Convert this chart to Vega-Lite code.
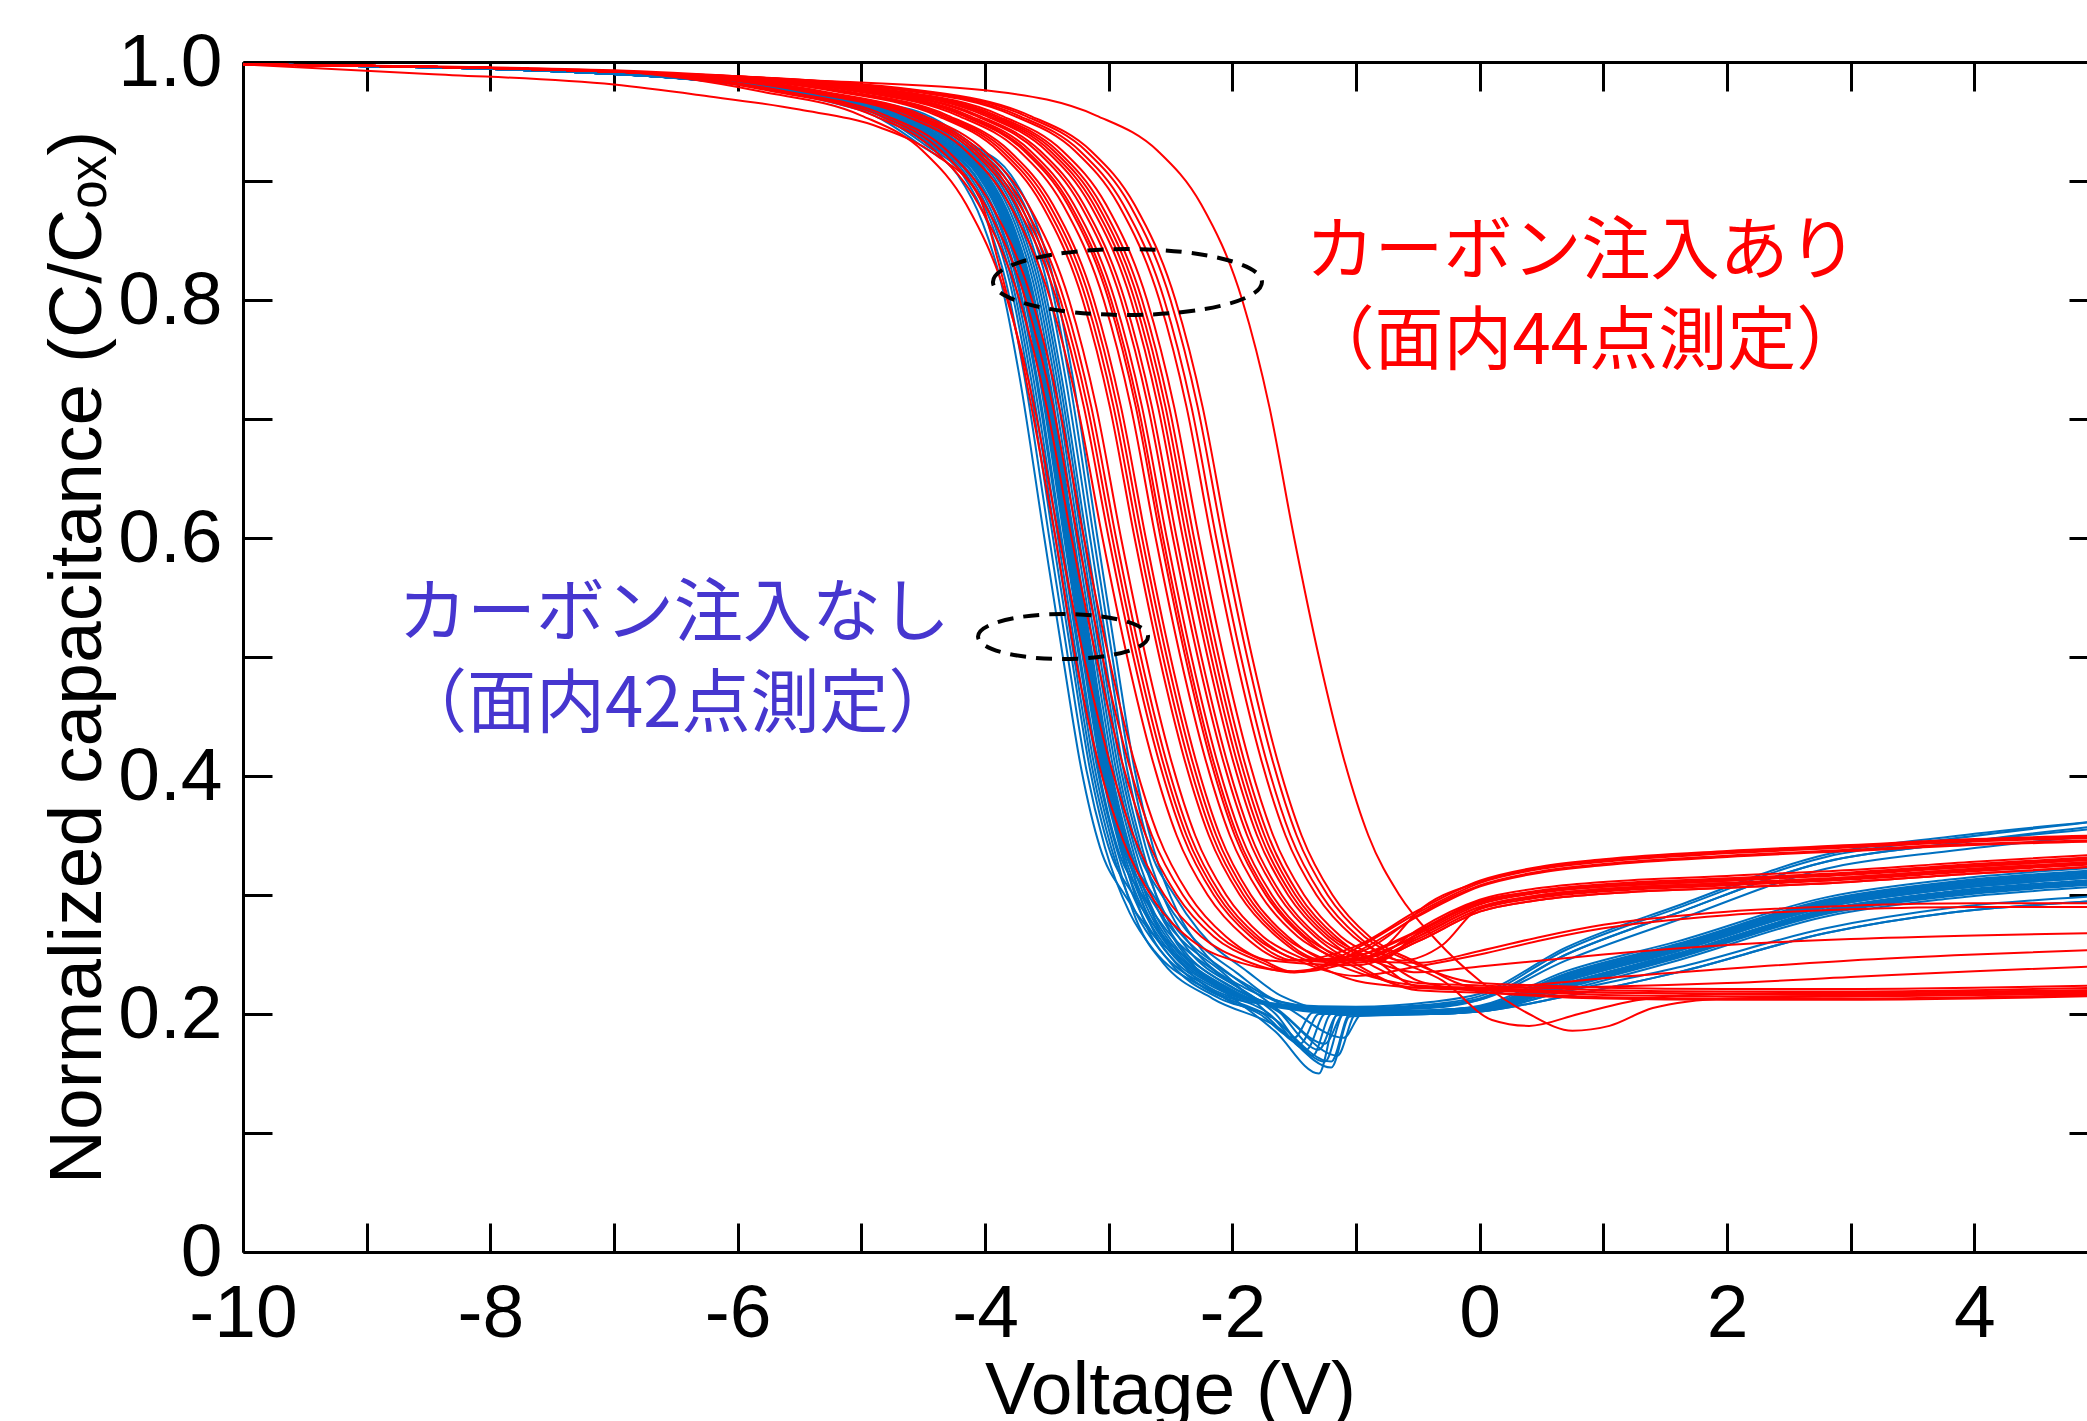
{
"$schema": "https://vega.github.io/schema/vega-lite/v6.json",
"width": 1855, "height": 1190,
"autosize": {"type": "none"},
"padding": {"left": 243, "top": 62, "right": 0, "bottom": 169},
"background": "white",
"config": {"view": {"stroke": null}},
"datasets": {
"blue": [
{"i":1,"v":-10,"c":0.998},{"i":1,"v":-7,"c":0.99},{"i":1,"v":-5.02,"c":0.96},{"i":1,"v":-4.52,"c":0.93},{"i":1,"v":-4.22,"c":0.905},{"i":1,"v":-4.02,"c":0.865},{"i":1,"v":-3.87,"c":0.815},{"i":1,"v":-3.72,"c":0.735},{"i":1,"v":-3.52,"c":0.6},{"i":1,"v":-3.37,"c":0.5},{"i":1,"v":-3.22,"c":0.405},{"i":1,"v":-3.07,"c":0.34},{"i":1,"v":-2.87,"c":0.3},{"i":1,"v":-2.67,"c":0.27},{"i":1,"v":-2.27,"c":0.235},{"i":1,"v":-1.65,"c":0.185},{"i":1,"v":-1.3,"c":0.15},{"i":1,"v":-1.15,"c":0.2},{"i":1,"v":-0.4,"c":0.202},{"i":1,"v":0,"c":0.205},{"i":1,"v":0.7,"c":0.228},{"i":1,"v":1.6,"c":0.253},{"i":1,"v":2.8,"c":0.29},{"i":1,"v":3.8,"c":0.305},{"i":1,"v":5,"c":0.315},
{"i":2,"v":-10,"c":0.998},{"i":2,"v":-7,"c":0.99},{"i":2,"v":-4.98,"c":0.96},{"i":2,"v":-4.48,"c":0.93},{"i":2,"v":-4.18,"c":0.905},{"i":2,"v":-3.98,"c":0.865},{"i":2,"v":-3.83,"c":0.815},{"i":2,"v":-3.68,"c":0.735},{"i":2,"v":-3.48,"c":0.6},{"i":2,"v":-3.33,"c":0.5},{"i":2,"v":-3.18,"c":0.405},{"i":2,"v":-3.03,"c":0.34},{"i":2,"v":-2.83,"c":0.285},{"i":2,"v":-2.63,"c":0.253},{"i":2,"v":-2.23,"c":0.222},{"i":2,"v":-1.65,"c":0.195},{"i":2,"v":-1.25,"c":0.16},{"i":2,"v":-1.1,"c":0.2},{"i":2,"v":-0.4,"c":0.203},{"i":2,"v":0,"c":0.206},{"i":2,"v":0.7,"c":0.232},{"i":2,"v":1.6,"c":0.257},{"i":2,"v":2.8,"c":0.294},{"i":2,"v":3.8,"c":0.309},{"i":2,"v":5,"c":0.319},
{"i":3,"v":-10,"c":0.998},{"i":3,"v":-7,"c":0.99},{"i":3,"v":-4.95,"c":0.96},{"i":3,"v":-4.45,"c":0.93},{"i":3,"v":-4.15,"c":0.905},{"i":3,"v":-3.95,"c":0.865},{"i":3,"v":-3.8,"c":0.815},{"i":3,"v":-3.65,"c":0.735},{"i":3,"v":-3.45,"c":0.6},{"i":3,"v":-3.3,"c":0.5},{"i":3,"v":-3.15,"c":0.405},{"i":3,"v":-3.0,"c":0.34},{"i":3,"v":-2.8,"c":0.3},{"i":3,"v":-2.6,"c":0.27},{"i":3,"v":-2.2,"c":0.235},{"i":3,"v":-1.6,"c":0.207},{"i":3,"v":-1.0,"c":0.203},{"i":3,"v":-0.4,"c":0.205},{"i":3,"v":0,"c":0.212},{"i":3,"v":0.7,"c":0.25},{"i":3,"v":1.6,"c":0.285},{"i":3,"v":2.8,"c":0.328},{"i":3,"v":3.8,"c":0.343},{"i":3,"v":5,"c":0.358},
{"i":4,"v":-10,"c":0.998},{"i":4,"v":-7,"c":0.99},{"i":4,"v":-4.93,"c":0.96},{"i":4,"v":-4.43,"c":0.93},{"i":4,"v":-4.13,"c":0.905},{"i":4,"v":-3.93,"c":0.865},{"i":4,"v":-3.78,"c":0.815},{"i":4,"v":-3.63,"c":0.735},{"i":4,"v":-3.43,"c":0.6},{"i":4,"v":-3.28,"c":0.5},{"i":4,"v":-3.13,"c":0.405},{"i":4,"v":-2.98,"c":0.34},{"i":4,"v":-2.78,"c":0.285},{"i":4,"v":-2.58,"c":0.253},{"i":4,"v":-2.18,"c":0.222},{"i":4,"v":-1.7,"c":0.2},{"i":4,"v":-1.4,"c":0.17},{"i":4,"v":-1.25,"c":0.2},{"i":4,"v":-0.4,"c":0.2},{"i":4,"v":0,"c":0.203},{"i":4,"v":0.7,"c":0.224},{"i":4,"v":1.6,"c":0.249},{"i":4,"v":2.8,"c":0.286},{"i":4,"v":3.8,"c":0.301},{"i":4,"v":5,"c":0.311},
{"i":5,"v":-10,"c":0.998},{"i":5,"v":-7,"c":0.99},{"i":5,"v":-4.91,"c":0.96},{"i":5,"v":-4.41,"c":0.93},{"i":5,"v":-4.11,"c":0.905},{"i":5,"v":-3.91,"c":0.865},{"i":5,"v":-3.76,"c":0.815},{"i":5,"v":-3.61,"c":0.735},{"i":5,"v":-3.41,"c":0.6},{"i":5,"v":-3.26,"c":0.5},{"i":5,"v":-3.11,"c":0.405},{"i":5,"v":-2.96,"c":0.34},{"i":5,"v":-2.76,"c":0.275},{"i":5,"v":-2.56,"c":0.243},{"i":5,"v":-2.16,"c":0.213},{"i":5,"v":-1.65,"c":0.19},{"i":5,"v":-1.2,"c":0.155},{"i":5,"v":-1.05,"c":0.198},{"i":5,"v":-0.4,"c":0.2},{"i":5,"v":0,"c":0.202},{"i":5,"v":0.7,"c":0.215},{"i":5,"v":1.6,"c":0.235},{"i":5,"v":2.8,"c":0.268},{"i":5,"v":3.8,"c":0.285},{"i":5,"v":5,"c":0.295},
{"i":6,"v":-10,"c":0.998},{"i":6,"v":-7,"c":0.99},{"i":6,"v":-4.89,"c":0.96},{"i":6,"v":-4.39,"c":0.93},{"i":6,"v":-4.09,"c":0.905},{"i":6,"v":-3.89,"c":0.865},{"i":6,"v":-3.74,"c":0.815},{"i":6,"v":-3.59,"c":0.735},{"i":6,"v":-3.39,"c":0.6},{"i":6,"v":-3.24,"c":0.5},{"i":6,"v":-3.09,"c":0.405},{"i":6,"v":-2.94,"c":0.34},{"i":6,"v":-2.74,"c":0.285},{"i":6,"v":-2.54,"c":0.253},{"i":6,"v":-2.14,"c":0.222},{"i":6,"v":-1.6,"c":0.207},{"i":6,"v":-1.0,"c":0.202},{"i":6,"v":-0.4,"c":0.203},{"i":6,"v":0,"c":0.207},{"i":6,"v":0.7,"c":0.236},{"i":6,"v":1.6,"c":0.261},{"i":6,"v":2.8,"c":0.298},{"i":6,"v":3.8,"c":0.313},{"i":6,"v":5,"c":0.323},
{"i":7,"v":-10,"c":0.998},{"i":7,"v":-7,"c":0.99},{"i":7,"v":-4.88,"c":0.96},{"i":7,"v":-4.38,"c":0.93},{"i":7,"v":-4.08,"c":0.905},{"i":7,"v":-3.88,"c":0.865},{"i":7,"v":-3.73,"c":0.815},{"i":7,"v":-3.58,"c":0.735},{"i":7,"v":-3.38,"c":0.6},{"i":7,"v":-3.23,"c":0.5},{"i":7,"v":-3.08,"c":0.405},{"i":7,"v":-2.93,"c":0.34},{"i":7,"v":-2.73,"c":0.3},{"i":7,"v":-2.53,"c":0.27},{"i":7,"v":-2.13,"c":0.235},{"i":7,"v":-1.65,"c":0.2},{"i":7,"v":-1.35,"c":0.165},{"i":7,"v":-1.2,"c":0.2},{"i":7,"v":-0.4,"c":0.202},{"i":7,"v":0,"c":0.205},{"i":7,"v":0.7,"c":0.228},{"i":7,"v":1.6,"c":0.253},{"i":7,"v":2.8,"c":0.29},{"i":7,"v":3.8,"c":0.305},{"i":7,"v":5,"c":0.315},
{"i":8,"v":-10,"c":0.998},{"i":8,"v":-7,"c":0.99},{"i":8,"v":-4.86,"c":0.96},{"i":8,"v":-4.36,"c":0.93},{"i":8,"v":-4.06,"c":0.905},{"i":8,"v":-3.86,"c":0.865},{"i":8,"v":-3.71,"c":0.815},{"i":8,"v":-3.56,"c":0.735},{"i":8,"v":-3.36,"c":0.6},{"i":8,"v":-3.21,"c":0.5},{"i":8,"v":-3.06,"c":0.405},{"i":8,"v":-2.91,"c":0.34},{"i":8,"v":-2.71,"c":0.285},{"i":8,"v":-2.51,"c":0.253},{"i":8,"v":-2.11,"c":0.222},{"i":8,"v":-1.6,"c":0.207},{"i":8,"v":-1.0,"c":0.204},{"i":8,"v":-0.4,"c":0.206},{"i":8,"v":0,"c":0.212},{"i":8,"v":0.7,"c":0.245},{"i":8,"v":1.6,"c":0.279},{"i":8,"v":2.8,"c":0.322},{"i":8,"v":3.8,"c":0.337},{"i":8,"v":5,"c":0.35},
{"i":9,"v":-10,"c":0.998},{"i":9,"v":-7,"c":0.99},{"i":9,"v":-4.85,"c":0.96},{"i":9,"v":-4.35,"c":0.93},{"i":9,"v":-4.05,"c":0.905},{"i":9,"v":-3.85,"c":0.865},{"i":9,"v":-3.7,"c":0.815},{"i":9,"v":-3.55,"c":0.735},{"i":9,"v":-3.35,"c":0.6},{"i":9,"v":-3.2,"c":0.5},{"i":9,"v":-3.05,"c":0.405},{"i":9,"v":-2.9,"c":0.34},{"i":9,"v":-2.7,"c":0.275},{"i":9,"v":-2.5,"c":0.243},{"i":9,"v":-2.1,"c":0.213},{"i":9,"v":-1.75,"c":0.2},{"i":9,"v":-1.45,"c":0.175},{"i":9,"v":-1.3,"c":0.2},{"i":9,"v":-0.4,"c":0.2},{"i":9,"v":0,"c":0.202},{"i":9,"v":0.7,"c":0.22},{"i":9,"v":1.6,"c":0.245},{"i":9,"v":2.8,"c":0.282},{"i":9,"v":3.8,"c":0.297},{"i":9,"v":5,"c":0.307},
{"i":10,"v":-10,"c":0.998},{"i":10,"v":-7,"c":0.99},{"i":10,"v":-4.84,"c":0.96},{"i":10,"v":-4.34,"c":0.93},{"i":10,"v":-4.04,"c":0.905},{"i":10,"v":-3.84,"c":0.865},{"i":10,"v":-3.69,"c":0.815},{"i":10,"v":-3.54,"c":0.735},{"i":10,"v":-3.34,"c":0.6},{"i":10,"v":-3.19,"c":0.5},{"i":10,"v":-3.04,"c":0.405},{"i":10,"v":-2.89,"c":0.34},{"i":10,"v":-2.69,"c":0.285},{"i":10,"v":-2.49,"c":0.253},{"i":10,"v":-2.09,"c":0.222},{"i":10,"v":-1.6,"c":0.207},{"i":10,"v":-1.0,"c":0.202},{"i":10,"v":-0.4,"c":0.202},{"i":10,"v":0,"c":0.205},{"i":10,"v":0.7,"c":0.231},{"i":10,"v":1.6,"c":0.256},{"i":10,"v":2.8,"c":0.293},{"i":10,"v":3.8,"c":0.308},{"i":10,"v":5,"c":0.318},
{"i":11,"v":-10,"c":0.998},{"i":11,"v":-7,"c":0.99},{"i":11,"v":-4.83,"c":0.96},{"i":11,"v":-4.33,"c":0.93},{"i":11,"v":-4.03,"c":0.905},{"i":11,"v":-3.83,"c":0.865},{"i":11,"v":-3.68,"c":0.815},{"i":11,"v":-3.53,"c":0.735},{"i":11,"v":-3.33,"c":0.6},{"i":11,"v":-3.18,"c":0.5},{"i":11,"v":-3.03,"c":0.405},{"i":11,"v":-2.88,"c":0.34},{"i":11,"v":-2.68,"c":0.3},{"i":11,"v":-2.48,"c":0.27},{"i":11,"v":-2.08,"c":0.235},{"i":11,"v":-1.65,"c":0.195},{"i":11,"v":-1.2,"c":0.16},{"i":11,"v":-1.05,"c":0.2},{"i":11,"v":-0.4,"c":0.201},{"i":11,"v":0,"c":0.204},{"i":11,"v":0.7,"c":0.225},{"i":11,"v":1.6,"c":0.25},{"i":11,"v":2.8,"c":0.287},{"i":11,"v":3.8,"c":0.302},{"i":11,"v":5,"c":0.312},
{"i":12,"v":-10,"c":0.998},{"i":12,"v":-7,"c":0.99},{"i":12,"v":-4.82,"c":0.96},{"i":12,"v":-4.32,"c":0.93},{"i":12,"v":-4.02,"c":0.905},{"i":12,"v":-3.82,"c":0.865},{"i":12,"v":-3.67,"c":0.815},{"i":12,"v":-3.52,"c":0.735},{"i":12,"v":-3.32,"c":0.6},{"i":12,"v":-3.17,"c":0.5},{"i":12,"v":-3.02,"c":0.405},{"i":12,"v":-2.87,"c":0.34},{"i":12,"v":-2.67,"c":0.285},{"i":12,"v":-2.47,"c":0.253},{"i":12,"v":-2.07,"c":0.222},{"i":12,"v":-1.6,"c":0.208},{"i":12,"v":-1.0,"c":0.205},{"i":12,"v":-0.4,"c":0.208},{"i":12,"v":0,"c":0.215},{"i":12,"v":0.7,"c":0.254},{"i":12,"v":1.6,"c":0.289},{"i":12,"v":2.8,"c":0.332},{"i":12,"v":3.8,"c":0.347},{"i":12,"v":5,"c":0.362},
{"i":13,"v":-10,"c":0.998},{"i":13,"v":-7,"c":0.99},{"i":13,"v":-4.81,"c":0.96},{"i":13,"v":-4.31,"c":0.93},{"i":13,"v":-4.01,"c":0.905},{"i":13,"v":-3.81,"c":0.865},{"i":13,"v":-3.66,"c":0.815},{"i":13,"v":-3.51,"c":0.735},{"i":13,"v":-3.31,"c":0.6},{"i":13,"v":-3.16,"c":0.5},{"i":13,"v":-3.01,"c":0.405},{"i":13,"v":-2.86,"c":0.34},{"i":13,"v":-2.66,"c":0.275},{"i":13,"v":-2.46,"c":0.243},{"i":13,"v":-2.06,"c":0.213},{"i":13,"v":-1.78,"c":0.2},{"i":13,"v":-1.5,"c":0.18},{"i":13,"v":-1.35,"c":0.201},{"i":13,"v":-0.4,"c":0.203},{"i":13,"v":0,"c":0.206},{"i":13,"v":0.7,"c":0.234},{"i":13,"v":1.6,"c":0.259},{"i":13,"v":2.8,"c":0.296},{"i":13,"v":3.8,"c":0.311},{"i":13,"v":5,"c":0.321},
{"i":14,"v":-10,"c":0.998},{"i":14,"v":-7,"c":0.99},{"i":14,"v":-4.8,"c":0.96},{"i":14,"v":-4.3,"c":0.93},{"i":14,"v":-4.0,"c":0.905},{"i":14,"v":-3.8,"c":0.865},{"i":14,"v":-3.65,"c":0.815},{"i":14,"v":-3.5,"c":0.735},{"i":14,"v":-3.3,"c":0.6},{"i":14,"v":-3.15,"c":0.5},{"i":14,"v":-3.0,"c":0.405},{"i":14,"v":-2.85,"c":0.34},{"i":14,"v":-2.65,"c":0.285},{"i":14,"v":-2.45,"c":0.253},{"i":14,"v":-2.05,"c":0.222},{"i":14,"v":-1.6,"c":0.206},{"i":14,"v":-1.0,"c":0.201},{"i":14,"v":-0.4,"c":0.202},{"i":14,"v":0,"c":0.205},{"i":14,"v":0.7,"c":0.228},{"i":14,"v":1.6,"c":0.253},{"i":14,"v":2.8,"c":0.29},{"i":14,"v":3.8,"c":0.305},{"i":14,"v":5,"c":0.315},
{"i":15,"v":-10,"c":0.998},{"i":15,"v":-7,"c":0.99},{"i":15,"v":-4.79,"c":0.96},{"i":15,"v":-4.29,"c":0.93},{"i":15,"v":-3.99,"c":0.905},{"i":15,"v":-3.79,"c":0.865},{"i":15,"v":-3.64,"c":0.815},{"i":15,"v":-3.49,"c":0.735},{"i":15,"v":-3.29,"c":0.6},{"i":15,"v":-3.14,"c":0.5},{"i":15,"v":-2.99,"c":0.405},{"i":15,"v":-2.84,"c":0.34},{"i":15,"v":-2.64,"c":0.3},{"i":15,"v":-2.44,"c":0.27},{"i":15,"v":-2.04,"c":0.235},{"i":15,"v":-1.65,"c":0.205},{"i":15,"v":-1.3,"c":0.17},{"i":15,"v":-1.15,"c":0.199},{"i":15,"v":-0.4,"c":0.2},{"i":15,"v":0,"c":0.203},{"i":15,"v":0.7,"c":0.219},{"i":15,"v":1.6,"c":0.239},{"i":15,"v":2.8,"c":0.272},{"i":15,"v":3.8,"c":0.289},{"i":15,"v":5,"c":0.299},
{"i":16,"v":-10,"c":0.998},{"i":16,"v":-7,"c":0.99},{"i":16,"v":-4.78,"c":0.96},{"i":16,"v":-4.28,"c":0.93},{"i":16,"v":-3.98,"c":0.905},{"i":16,"v":-3.78,"c":0.865},{"i":16,"v":-3.63,"c":0.815},{"i":16,"v":-3.48,"c":0.735},{"i":16,"v":-3.28,"c":0.6},{"i":16,"v":-3.13,"c":0.5},{"i":16,"v":-2.98,"c":0.405},{"i":16,"v":-2.83,"c":0.34},{"i":16,"v":-2.63,"c":0.285},{"i":16,"v":-2.43,"c":0.253},{"i":16,"v":-2.03,"c":0.222},{"i":16,"v":-1.6,"c":0.205},{"i":16,"v":-1.0,"c":0.2},{"i":16,"v":-0.4,"c":0.201},{"i":16,"v":0,"c":0.204},{"i":16,"v":0.7,"c":0.223},{"i":16,"v":1.6,"c":0.248},{"i":16,"v":2.8,"c":0.285},{"i":16,"v":3.8,"c":0.3},{"i":16,"v":5,"c":0.31},
{"i":17,"v":-10,"c":0.998},{"i":17,"v":-7,"c":0.99},{"i":17,"v":-4.76,"c":0.96},{"i":17,"v":-4.26,"c":0.93},{"i":17,"v":-3.96,"c":0.905},{"i":17,"v":-3.76,"c":0.865},{"i":17,"v":-3.61,"c":0.815},{"i":17,"v":-3.46,"c":0.735},{"i":17,"v":-3.26,"c":0.6},{"i":17,"v":-3.11,"c":0.5},{"i":17,"v":-2.96,"c":0.405},{"i":17,"v":-2.81,"c":0.34},{"i":17,"v":-2.61,"c":0.275},{"i":17,"v":-2.41,"c":0.243},{"i":17,"v":-2.01,"c":0.213},{"i":17,"v":-1.6,"c":0.207},{"i":17,"v":-1.0,"c":0.204},{"i":17,"v":-0.4,"c":0.207},{"i":17,"v":0,"c":0.213},{"i":17,"v":0.7,"c":0.25},{"i":17,"v":1.6,"c":0.285},{"i":17,"v":2.8,"c":0.328},{"i":17,"v":3.8,"c":0.343},{"i":17,"v":5,"c":0.356},
{"i":18,"v":-10,"c":0.998},{"i":18,"v":-7,"c":0.99},{"i":18,"v":-4.74,"c":0.96},{"i":18,"v":-4.24,"c":0.93},{"i":18,"v":-3.94,"c":0.905},{"i":18,"v":-3.74,"c":0.865},{"i":18,"v":-3.59,"c":0.815},{"i":18,"v":-3.44,"c":0.735},{"i":18,"v":-3.24,"c":0.6},{"i":18,"v":-3.09,"c":0.5},{"i":18,"v":-2.94,"c":0.405},{"i":18,"v":-2.79,"c":0.34},{"i":18,"v":-2.59,"c":0.285},{"i":18,"v":-2.39,"c":0.253},{"i":18,"v":-1.99,"c":0.222},{"i":18,"v":-1.65,"c":0.205},{"i":18,"v":-1.25,"c":0.175},{"i":18,"v":-1.1,"c":0.2},{"i":18,"v":-0.4,"c":0.202},{"i":18,"v":0,"c":0.205},{"i":18,"v":0.7,"c":0.23},{"i":18,"v":1.6,"c":0.255},{"i":18,"v":2.8,"c":0.292},{"i":18,"v":3.8,"c":0.307},{"i":18,"v":5,"c":0.317},
{"i":19,"v":-10,"c":0.998},{"i":19,"v":-7,"c":0.99},{"i":19,"v":-4.72,"c":0.96},{"i":19,"v":-4.22,"c":0.93},{"i":19,"v":-3.92,"c":0.905},{"i":19,"v":-3.72,"c":0.865},{"i":19,"v":-3.57,"c":0.815},{"i":19,"v":-3.42,"c":0.735},{"i":19,"v":-3.22,"c":0.6},{"i":19,"v":-3.07,"c":0.5},{"i":19,"v":-2.92,"c":0.405},{"i":19,"v":-2.77,"c":0.34},{"i":19,"v":-2.57,"c":0.3},{"i":19,"v":-2.37,"c":0.27},{"i":19,"v":-1.97,"c":0.235},{"i":19,"v":-1.6,"c":0.21},{"i":19,"v":-1.0,"c":0.203},{"i":19,"v":-0.4,"c":0.203},{"i":19,"v":0,"c":0.206},{"i":19,"v":0.7,"c":0.233},{"i":19,"v":1.6,"c":0.258},{"i":19,"v":2.8,"c":0.295},{"i":19,"v":3.8,"c":0.31},{"i":19,"v":5,"c":0.32},
{"i":20,"v":-10,"c":0.998},{"i":20,"v":-7,"c":0.99},{"i":20,"v":-4.7,"c":0.96},{"i":20,"v":-4.2,"c":0.93},{"i":20,"v":-3.9,"c":0.905},{"i":20,"v":-3.7,"c":0.865},{"i":20,"v":-3.55,"c":0.815},{"i":20,"v":-3.4,"c":0.735},{"i":20,"v":-3.2,"c":0.6},{"i":20,"v":-3.05,"c":0.5},{"i":20,"v":-2.9,"c":0.405},{"i":20,"v":-2.75,"c":0.34},{"i":20,"v":-2.55,"c":0.285},{"i":20,"v":-2.35,"c":0.253},{"i":20,"v":-1.95,"c":0.222},{"i":20,"v":-1.6,"c":0.2},{"i":20,"v":-1.15,"c":0.165},{"i":20,"v":-1.0,"c":0.2},{"i":20,"v":-0.4,"c":0.201},{"i":20,"v":0,"c":0.204},{"i":20,"v":0.7,"c":0.226},{"i":20,"v":1.6,"c":0.251},{"i":20,"v":2.8,"c":0.288},{"i":20,"v":3.8,"c":0.303},{"i":20,"v":5,"c":0.313},
{"i":21,"v":-10,"c":0.998},{"i":21,"v":-7,"c":0.99},{"i":21,"v":-4.68,"c":0.96},{"i":21,"v":-4.18,"c":0.93},{"i":21,"v":-3.88,"c":0.905},{"i":21,"v":-3.68,"c":0.865},{"i":21,"v":-3.53,"c":0.815},{"i":21,"v":-3.38,"c":0.735},{"i":21,"v":-3.18,"c":0.6},{"i":21,"v":-3.03,"c":0.5},{"i":21,"v":-2.88,"c":0.405},{"i":21,"v":-2.73,"c":0.34},{"i":21,"v":-2.53,"c":0.275},{"i":21,"v":-2.33,"c":0.243},{"i":21,"v":-1.93,"c":0.213},{"i":21,"v":-1.6,"c":0.208},{"i":21,"v":-1.0,"c":0.206},{"i":21,"v":-0.4,"c":0.21},{"i":21,"v":0,"c":0.217},{"i":21,"v":0.7,"c":0.256},{"i":21,"v":1.6,"c":0.291},{"i":21,"v":2.8,"c":0.334},{"i":21,"v":3.8,"c":0.349},{"i":21,"v":5,"c":0.362},
{"i":22,"v":-10,"c":0.998},{"i":22,"v":-7,"c":0.99},{"i":22,"v":-4.65,"c":0.96},{"i":22,"v":-4.15,"c":0.93},{"i":22,"v":-3.85,"c":0.905},{"i":22,"v":-3.65,"c":0.865},{"i":22,"v":-3.5,"c":0.815},{"i":22,"v":-3.35,"c":0.735},{"i":22,"v":-3.15,"c":0.6},{"i":22,"v":-3.0,"c":0.5},{"i":22,"v":-2.85,"c":0.405},{"i":22,"v":-2.7,"c":0.34},{"i":22,"v":-2.5,"c":0.285},{"i":22,"v":-2.3,"c":0.253},{"i":22,"v":-1.9,"c":0.222},{"i":22,"v":-1.6,"c":0.21},{"i":22,"v":-1.0,"c":0.202},{"i":22,"v":-0.4,"c":0.202},{"i":22,"v":0,"c":0.205},{"i":22,"v":0.7,"c":0.229},{"i":22,"v":1.6,"c":0.254},{"i":22,"v":2.8,"c":0.291},{"i":22,"v":3.8,"c":0.306},{"i":22,"v":5,"c":0.316},
{"i":23,"v":-10,"c":0.998},{"i":23,"v":-7,"c":0.99},{"i":23,"v":-4.62,"c":0.96},{"i":23,"v":-4.12,"c":0.93},{"i":23,"v":-3.82,"c":0.905},{"i":23,"v":-3.62,"c":0.865},{"i":23,"v":-3.47,"c":0.815},{"i":23,"v":-3.32,"c":0.735},{"i":23,"v":-3.12,"c":0.6},{"i":23,"v":-2.97,"c":0.5},{"i":23,"v":-2.82,"c":0.405},{"i":23,"v":-2.67,"c":0.34},{"i":23,"v":-2.47,"c":0.3},{"i":23,"v":-2.27,"c":0.27},{"i":23,"v":-1.87,"c":0.235},{"i":23,"v":-1.6,"c":0.215},{"i":23,"v":-1.0,"c":0.2},{"i":23,"v":-0.4,"c":0.2},{"i":23,"v":0,"c":0.202},{"i":23,"v":0.7,"c":0.215},{"i":23,"v":1.6,"c":0.235},{"i":23,"v":2.8,"c":0.268},{"i":23,"v":3.8,"c":0.285},{"i":23,"v":5,"c":0.295},
{"i":24,"v":-10,"c":0.998},{"i":24,"v":-7,"c":0.99},{"i":24,"v":-4.59,"c":0.96},{"i":24,"v":-4.09,"c":0.93},{"i":24,"v":-3.79,"c":0.905},{"i":24,"v":-3.59,"c":0.865},{"i":24,"v":-3.44,"c":0.815},{"i":24,"v":-3.29,"c":0.735},{"i":24,"v":-3.09,"c":0.6},{"i":24,"v":-2.94,"c":0.5},{"i":24,"v":-2.79,"c":0.405},{"i":24,"v":-2.64,"c":0.34},{"i":24,"v":-2.44,"c":0.285},{"i":24,"v":-2.24,"c":0.253},{"i":24,"v":-1.84,"c":0.222},{"i":24,"v":-1.55,"c":0.205},{"i":24,"v":-1.1,"c":0.18},{"i":24,"v":-0.95,"c":0.2},{"i":24,"v":-0.4,"c":0.2},{"i":24,"v":0,"c":0.203},{"i":24,"v":0.7,"c":0.222},{"i":24,"v":1.6,"c":0.247},{"i":24,"v":2.8,"c":0.284},{"i":24,"v":3.8,"c":0.299},{"i":24,"v":5,"c":0.309}
],
"red": [
{"i":1,"v":-10,"c":0.998},{"i":1,"v":-8.5,"c":0.99},{"i":1,"v":-7,"c":0.981},{"i":1,"v":-6.3,"c":0.972},{"i":1,"v":-5.5,"c":0.96},{"i":1,"v":-4.85,"c":0.945},{"i":1,"v":-4.4,"c":0.922},{"i":1,"v":-4.04,"c":0.885},{"i":1,"v":-3.9,"c":0.835},{"i":1,"v":-3.72,"c":0.76},{"i":1,"v":-3.57,"c":0.68},{"i":1,"v":-3.43,"c":0.6},{"i":1,"v":-3.27,"c":0.5},{"i":1,"v":-3.08,"c":0.41},{"i":1,"v":-2.88,"c":0.345},{"i":1,"v":-2.63,"c":0.295},{"i":1,"v":-2.33,"c":0.262},{"i":1,"v":-1.93,"c":0.243},{"i":1,"v":-1.5,"c":0.236},{"i":1,"v":-1.0,"c":0.248},{"i":1,"v":-0.5,"c":0.27},{"i":1,"v":0,"c":0.295},{"i":1,"v":0.5,"c":0.303},{"i":1,"v":1,"c":0.307},{"i":1,"v":2,"c":0.312},{"i":1,"v":3,"c":0.318},{"i":1,"v":4,"c":0.324},{"i":1,"v":5,"c":0.33},
{"i":2,"v":-10,"c":0.998},{"i":2,"v":-7,"c":0.992},{"i":2,"v":-5.8,"c":0.975},{"i":2,"v":-5.0,"c":0.955},{"i":2,"v":-4.5,"c":0.925},{"i":2,"v":-4.15,"c":0.88},{"i":2,"v":-3.82,"c":0.8},{"i":2,"v":-3.6,"c":0.71},{"i":2,"v":-3.4,"c":0.6},{"i":2,"v":-3.2,"c":0.5},{"i":2,"v":-3.0,"c":0.415},{"i":2,"v":-2.8,"c":0.35},{"i":2,"v":-2.55,"c":0.3},{"i":2,"v":-2.25,"c":0.265},{"i":2,"v":-1.9,"c":0.245},{"i":2,"v":-1.5,"c":0.235},{"i":2,"v":-1.0,"c":0.245},{"i":2,"v":-0.5,"c":0.265},{"i":2,"v":0,"c":0.29},{"i":2,"v":0.5,"c":0.3},{"i":2,"v":1,"c":0.305},{"i":2,"v":2,"c":0.31},{"i":2,"v":3,"c":0.315},{"i":2,"v":4,"c":0.322},{"i":2,"v":5,"c":0.328},
{"i":3,"v":-10,"c":0.998},{"i":3,"v":-7,"c":0.992},{"i":3,"v":-5.7,"c":0.975},{"i":3,"v":-4.9,"c":0.955},{"i":3,"v":-4.4,"c":0.925},{"i":3,"v":-4.05,"c":0.88},{"i":3,"v":-3.72,"c":0.8},{"i":3,"v":-3.5,"c":0.71},{"i":3,"v":-3.3,"c":0.6},{"i":3,"v":-3.1,"c":0.5},{"i":3,"v":-2.9,"c":0.415},{"i":3,"v":-2.7,"c":0.35},{"i":3,"v":-2.45,"c":0.3},{"i":3,"v":-2.15,"c":0.265},{"i":3,"v":-1.8,"c":0.245},{"i":3,"v":-1.5,"c":0.235},{"i":3,"v":-1.0,"c":0.255},{"i":3,"v":-0.5,"c":0.285},{"i":3,"v":0,"c":0.31},{"i":3,"v":0.5,"c":0.322},{"i":3,"v":1,"c":0.328},{"i":3,"v":2,"c":0.335},{"i":3,"v":3,"c":0.34},{"i":3,"v":4,"c":0.345},{"i":3,"v":5,"c":0.348},
{"i":4,"v":-10,"c":0.998},{"i":4,"v":-7,"c":0.992},{"i":4,"v":-5.6,"c":0.975},{"i":4,"v":-4.8,"c":0.955},{"i":4,"v":-4.3,"c":0.925},{"i":4,"v":-3.95,"c":0.88},{"i":4,"v":-3.62,"c":0.8},{"i":4,"v":-3.4,"c":0.71},{"i":4,"v":-3.2,"c":0.6},{"i":4,"v":-3.0,"c":0.5},{"i":4,"v":-2.8,"c":0.415},{"i":4,"v":-2.6,"c":0.35},{"i":4,"v":-2.35,"c":0.3},{"i":4,"v":-2.05,"c":0.265},{"i":4,"v":-1.7,"c":0.245},{"i":4,"v":-1.0,"c":0.241},{"i":4,"v":-0.5,"c":0.261},{"i":4,"v":0,"c":0.286},{"i":4,"v":0.5,"c":0.296},{"i":4,"v":1,"c":0.301},{"i":4,"v":2,"c":0.306},{"i":4,"v":3,"c":0.311},{"i":4,"v":4,"c":0.318},{"i":4,"v":5,"c":0.324},
{"i":5,"v":-10,"c":0.998},{"i":5,"v":-7,"c":0.992},{"i":5,"v":-5.65,"c":0.975},{"i":5,"v":-4.85,"c":0.955},{"i":5,"v":-4.35,"c":0.925},{"i":5,"v":-4.0,"c":0.88},{"i":5,"v":-3.67,"c":0.8},{"i":5,"v":-3.45,"c":0.71},{"i":5,"v":-3.25,"c":0.6},{"i":5,"v":-3.05,"c":0.5},{"i":5,"v":-2.85,"c":0.415},{"i":5,"v":-2.65,"c":0.35},{"i":5,"v":-2.4,"c":0.3},{"i":5,"v":-2.1,"c":0.265},{"i":5,"v":-1.75,"c":0.245},{"i":5,"v":-1.5,"c":0.235},{"i":5,"v":-1.0,"c":0.252},{"i":5,"v":-0.5,"c":0.282},{"i":5,"v":0,"c":0.307},{"i":5,"v":0.5,"c":0.319},{"i":5,"v":1,"c":0.325},{"i":5,"v":2,"c":0.332},{"i":5,"v":3,"c":0.337},{"i":5,"v":4,"c":0.342},{"i":5,"v":5,"c":0.345},
{"i":6,"v":-10,"c":0.998},{"i":6,"v":-7,"c":0.992},{"i":6,"v":-5.45,"c":0.975},{"i":6,"v":-4.65,"c":0.955},{"i":6,"v":-4.15,"c":0.925},{"i":6,"v":-3.8,"c":0.88},{"i":6,"v":-3.47,"c":0.8},{"i":6,"v":-3.25,"c":0.71},{"i":6,"v":-3.05,"c":0.6},{"i":6,"v":-2.85,"c":0.5},{"i":6,"v":-2.65,"c":0.415},{"i":6,"v":-2.45,"c":0.35},{"i":6,"v":-2.2,"c":0.3},{"i":6,"v":-1.9,"c":0.265},{"i":6,"v":-1.55,"c":0.245},{"i":6,"v":-1.0,"c":0.249},{"i":6,"v":-0.5,"c":0.269},{"i":6,"v":0,"c":0.294},{"i":6,"v":0.5,"c":0.304},{"i":6,"v":1,"c":0.309},{"i":6,"v":2,"c":0.314},{"i":6,"v":3,"c":0.319},{"i":6,"v":4,"c":0.326},{"i":6,"v":5,"c":0.332},
{"i":7,"v":-10,"c":0.998},{"i":7,"v":-7,"c":0.992},{"i":7,"v":-5.4,"c":0.975},{"i":7,"v":-4.6,"c":0.955},{"i":7,"v":-4.1,"c":0.925},{"i":7,"v":-3.75,"c":0.88},{"i":7,"v":-3.42,"c":0.8},{"i":7,"v":-3.2,"c":0.71},{"i":7,"v":-3.0,"c":0.6},{"i":7,"v":-2.8,"c":0.5},{"i":7,"v":-2.6,"c":0.415},{"i":7,"v":-2.4,"c":0.35},{"i":7,"v":-2.15,"c":0.3},{"i":7,"v":-1.85,"c":0.265},{"i":7,"v":-1.5,"c":0.245},{"i":7,"v":-1.0,"c":0.257},{"i":7,"v":-0.5,"c":0.287},{"i":7,"v":0,"c":0.312},{"i":7,"v":0.5,"c":0.324},{"i":7,"v":1,"c":0.33},{"i":7,"v":2,"c":0.337},{"i":7,"v":3,"c":0.342},{"i":7,"v":4,"c":0.347},{"i":7,"v":5,"c":0.35},
{"i":8,"v":-10,"c":0.998},{"i":8,"v":-7,"c":0.992},{"i":8,"v":-5.37,"c":0.975},{"i":8,"v":-4.57,"c":0.955},{"i":8,"v":-4.07,"c":0.925},{"i":8,"v":-3.72,"c":0.88},{"i":8,"v":-3.39,"c":0.8},{"i":8,"v":-3.17,"c":0.71},{"i":8,"v":-2.97,"c":0.6},{"i":8,"v":-2.77,"c":0.5},{"i":8,"v":-2.57,"c":0.415},{"i":8,"v":-2.37,"c":0.35},{"i":8,"v":-2.12,"c":0.3},{"i":8,"v":-1.82,"c":0.265},{"i":8,"v":-1.47,"c":0.245},{"i":8,"v":-1.0,"c":0.232},{"i":8,"v":-0.5,"c":0.24},{"i":8,"v":0,"c":0.25},{"i":8,"v":0.5,"c":0.262},{"i":8,"v":1,"c":0.272},{"i":8,"v":2,"c":0.283},{"i":8,"v":3,"c":0.288},{"i":8,"v":4,"c":0.29},{"i":8,"v":5,"c":0.29},
{"i":9,"v":-10,"c":0.998},{"i":9,"v":-7,"c":0.992},{"i":9,"v":-5.34,"c":0.975},{"i":9,"v":-4.54,"c":0.955},{"i":9,"v":-4.04,"c":0.925},{"i":9,"v":-3.69,"c":0.88},{"i":9,"v":-3.36,"c":0.8},{"i":9,"v":-3.14,"c":0.71},{"i":9,"v":-2.94,"c":0.6},{"i":9,"v":-2.74,"c":0.5},{"i":9,"v":-2.54,"c":0.415},{"i":9,"v":-2.34,"c":0.35},{"i":9,"v":-2.09,"c":0.3},{"i":9,"v":-1.79,"c":0.265},{"i":9,"v":-1.44,"c":0.245},{"i":9,"v":-1.0,"c":0.243},{"i":9,"v":-0.5,"c":0.263},{"i":9,"v":0,"c":0.288},{"i":9,"v":0.5,"c":0.298},{"i":9,"v":1,"c":0.303},{"i":9,"v":2,"c":0.308},{"i":9,"v":3,"c":0.313},{"i":9,"v":4,"c":0.32},{"i":9,"v":5,"c":0.326},
{"i":10,"v":-10,"c":0.998},{"i":10,"v":-7,"c":0.992},{"i":10,"v":-5.3,"c":0.975},{"i":10,"v":-4.5,"c":0.955},{"i":10,"v":-4.0,"c":0.925},{"i":10,"v":-3.65,"c":0.88},{"i":10,"v":-3.32,"c":0.8},{"i":10,"v":-3.1,"c":0.71},{"i":10,"v":-2.9,"c":0.6},{"i":10,"v":-2.7,"c":0.5},{"i":10,"v":-2.5,"c":0.415},{"i":10,"v":-2.3,"c":0.35},{"i":10,"v":-2.05,"c":0.3},{"i":10,"v":-1.75,"c":0.265},{"i":10,"v":-1.4,"c":0.245},{"i":10,"v":-1.0,"c":0.228},{"i":10,"v":-0.5,"c":0.222},{"i":10,"v":0,"c":0.22},{"i":10,"v":0.5,"c":0.218},{"i":10,"v":1,"c":0.216},{"i":10,"v":2,"c":0.215},{"i":10,"v":3,"c":0.215},{"i":10,"v":4,"c":0.216},{"i":10,"v":5,"c":0.218},
{"i":11,"v":-10,"c":0.998},{"i":11,"v":-7,"c":0.992},{"i":11,"v":-5.19,"c":0.975},{"i":11,"v":-4.39,"c":0.955},{"i":11,"v":-3.89,"c":0.925},{"i":11,"v":-3.54,"c":0.88},{"i":11,"v":-3.21,"c":0.8},{"i":11,"v":-2.99,"c":0.71},{"i":11,"v":-2.79,"c":0.6},{"i":11,"v":-2.59,"c":0.5},{"i":11,"v":-2.39,"c":0.415},{"i":11,"v":-2.19,"c":0.35},{"i":11,"v":-1.94,"c":0.3},{"i":11,"v":-1.64,"c":0.265},{"i":11,"v":-1.29,"c":0.245},{"i":11,"v":-0.9,"c":0.248},{"i":11,"v":-0.5,"c":0.267},{"i":11,"v":0,"c":0.292},{"i":11,"v":0.5,"c":0.302},{"i":11,"v":1,"c":0.307},{"i":11,"v":2,"c":0.312},{"i":11,"v":3,"c":0.317},{"i":11,"v":4,"c":0.324},{"i":11,"v":5,"c":0.33},
{"i":12,"v":-10,"c":0.998},{"i":12,"v":-7,"c":0.992},{"i":12,"v":-5.16,"c":0.975},{"i":12,"v":-4.36,"c":0.955},{"i":12,"v":-3.86,"c":0.925},{"i":12,"v":-3.51,"c":0.88},{"i":12,"v":-3.18,"c":0.8},{"i":12,"v":-2.96,"c":0.71},{"i":12,"v":-2.76,"c":0.6},{"i":12,"v":-2.56,"c":0.5},{"i":12,"v":-2.36,"c":0.415},{"i":12,"v":-2.16,"c":0.35},{"i":12,"v":-1.91,"c":0.3},{"i":12,"v":-1.61,"c":0.265},{"i":12,"v":-1.26,"c":0.245},{"i":12,"v":-0.9,"c":0.255},{"i":12,"v":-0.5,"c":0.283},{"i":12,"v":0,"c":0.308},{"i":12,"v":0.5,"c":0.32},{"i":12,"v":1,"c":0.326},{"i":12,"v":2,"c":0.333},{"i":12,"v":3,"c":0.338},{"i":12,"v":4,"c":0.343},{"i":12,"v":5,"c":0.346},
{"i":13,"v":-10,"c":0.998},{"i":13,"v":-7,"c":0.992},{"i":13,"v":-5.13,"c":0.975},{"i":13,"v":-4.33,"c":0.955},{"i":13,"v":-3.83,"c":0.925},{"i":13,"v":-3.48,"c":0.88},{"i":13,"v":-3.15,"c":0.8},{"i":13,"v":-2.93,"c":0.71},{"i":13,"v":-2.73,"c":0.6},{"i":13,"v":-2.53,"c":0.5},{"i":13,"v":-2.33,"c":0.415},{"i":13,"v":-2.13,"c":0.35},{"i":13,"v":-1.88,"c":0.3},{"i":13,"v":-1.58,"c":0.265},{"i":13,"v":-1.23,"c":0.245},{"i":13,"v":-0.5,"c":0.224},{"i":13,"v":0,"c":0.222},{"i":13,"v":0.5,"c":0.22},{"i":13,"v":1,"c":0.218},{"i":13,"v":2,"c":0.217},{"i":13,"v":3,"c":0.217},{"i":13,"v":4,"c":0.218},{"i":13,"v":5,"c":0.22},
{"i":14,"v":-10,"c":0.998},{"i":14,"v":-7,"c":0.992},{"i":14,"v":-5.1,"c":0.975},{"i":14,"v":-4.3,"c":0.955},{"i":14,"v":-3.8,"c":0.925},{"i":14,"v":-3.45,"c":0.88},{"i":14,"v":-3.12,"c":0.8},{"i":14,"v":-2.9,"c":0.71},{"i":14,"v":-2.7,"c":0.6},{"i":14,"v":-2.5,"c":0.5},{"i":14,"v":-2.3,"c":0.415},{"i":14,"v":-2.1,"c":0.35},{"i":14,"v":-1.85,"c":0.3},{"i":14,"v":-1.55,"c":0.265},{"i":14,"v":-1.2,"c":0.245},{"i":14,"v":-0.85,"c":0.245},{"i":14,"v":-0.5,"c":0.265},{"i":14,"v":0,"c":0.29},{"i":14,"v":0.5,"c":0.3},{"i":14,"v":1,"c":0.305},{"i":14,"v":2,"c":0.31},{"i":14,"v":3,"c":0.315},{"i":14,"v":4,"c":0.322},{"i":14,"v":5,"c":0.328},
{"i":15,"v":-10,"c":0.998},{"i":15,"v":-7,"c":0.992},{"i":15,"v":-5.02,"c":0.975},{"i":15,"v":-4.22,"c":0.955},{"i":15,"v":-3.72,"c":0.925},{"i":15,"v":-3.37,"c":0.88},{"i":15,"v":-3.04,"c":0.8},{"i":15,"v":-2.82,"c":0.71},{"i":15,"v":-2.62,"c":0.6},{"i":15,"v":-2.42,"c":0.5},{"i":15,"v":-2.22,"c":0.415},{"i":15,"v":-2.02,"c":0.35},{"i":15,"v":-1.77,"c":0.3},{"i":15,"v":-1.47,"c":0.265},{"i":15,"v":-1.12,"c":0.245},{"i":15,"v":-0.5,"c":0.222},{"i":15,"v":0,"c":0.222},{"i":15,"v":0.5,"c":0.225},{"i":15,"v":1,"c":0.23},{"i":15,"v":2,"c":0.238},{"i":15,"v":3,"c":0.245},{"i":15,"v":4,"c":0.25},{"i":15,"v":5,"c":0.254},
{"i":16,"v":-10,"c":0.998},{"i":16,"v":-7,"c":0.992},{"i":16,"v":-4.98,"c":0.975},{"i":16,"v":-4.18,"c":0.955},{"i":16,"v":-3.68,"c":0.925},{"i":16,"v":-3.33,"c":0.88},{"i":16,"v":-3.0,"c":0.8},{"i":16,"v":-2.78,"c":0.71},{"i":16,"v":-2.58,"c":0.6},{"i":16,"v":-2.38,"c":0.5},{"i":16,"v":-2.18,"c":0.415},{"i":16,"v":-1.98,"c":0.35},{"i":16,"v":-1.73,"c":0.3},{"i":16,"v":-1.43,"c":0.265},{"i":16,"v":-1.08,"c":0.245},{"i":16,"v":-0.8,"c":0.25},{"i":16,"v":-0.5,"c":0.271},{"i":16,"v":0,"c":0.296},{"i":16,"v":0.5,"c":0.306},{"i":16,"v":1,"c":0.311},{"i":16,"v":2,"c":0.316},{"i":16,"v":3,"c":0.321},{"i":16,"v":4,"c":0.328},{"i":16,"v":5,"c":0.334},
{"i":17,"v":-10,"c":0.998},{"i":17,"v":-7,"c":0.992},{"i":17,"v":-4.96,"c":0.975},{"i":17,"v":-4.16,"c":0.955},{"i":17,"v":-3.66,"c":0.925},{"i":17,"v":-3.31,"c":0.88},{"i":17,"v":-2.98,"c":0.8},{"i":17,"v":-2.76,"c":0.71},{"i":17,"v":-2.56,"c":0.6},{"i":17,"v":-2.36,"c":0.5},{"i":17,"v":-2.16,"c":0.415},{"i":17,"v":-1.96,"c":0.35},{"i":17,"v":-1.71,"c":0.3},{"i":17,"v":-1.41,"c":0.265},{"i":17,"v":-1.06,"c":0.245},{"i":17,"v":-0.5,"c":0.22},{"i":17,"v":0,"c":0.218},{"i":17,"v":0.5,"c":0.216},{"i":17,"v":1,"c":0.214},{"i":17,"v":2,"c":0.213},{"i":17,"v":3,"c":0.213},{"i":17,"v":4,"c":0.214},{"i":17,"v":5,"c":0.216},
{"i":18,"v":-10,"c":0.998},{"i":18,"v":-7,"c":0.992},{"i":18,"v":-4.93,"c":0.975},{"i":18,"v":-4.13,"c":0.955},{"i":18,"v":-3.63,"c":0.925},{"i":18,"v":-3.28,"c":0.88},{"i":18,"v":-2.95,"c":0.8},{"i":18,"v":-2.73,"c":0.71},{"i":18,"v":-2.53,"c":0.6},{"i":18,"v":-2.33,"c":0.5},{"i":18,"v":-2.13,"c":0.415},{"i":18,"v":-1.93,"c":0.35},{"i":18,"v":-1.68,"c":0.3},{"i":18,"v":-1.38,"c":0.265},{"i":18,"v":-1.03,"c":0.245},{"i":18,"v":-0.75,"c":0.258},{"i":18,"v":-0.5,"c":0.286},{"i":18,"v":0,"c":0.311},{"i":18,"v":0.5,"c":0.323},{"i":18,"v":1,"c":0.329},{"i":18,"v":2,"c":0.336},{"i":18,"v":3,"c":0.341},{"i":18,"v":4,"c":0.346},{"i":18,"v":5,"c":0.349},
{"i":19,"v":-10,"c":0.998},{"i":19,"v":-7,"c":0.992},{"i":19,"v":-4.88,"c":0.975},{"i":19,"v":-4.08,"c":0.955},{"i":19,"v":-3.58,"c":0.925},{"i":19,"v":-3.23,"c":0.88},{"i":19,"v":-2.9,"c":0.8},{"i":19,"v":-2.68,"c":0.71},{"i":19,"v":-2.48,"c":0.6},{"i":19,"v":-2.28,"c":0.5},{"i":19,"v":-2.08,"c":0.415},{"i":19,"v":-1.88,"c":0.35},{"i":19,"v":-1.63,"c":0.3},{"i":19,"v":-1.33,"c":0.265},{"i":19,"v":-0.98,"c":0.245},{"i":19,"v":-0.5,"c":0.243},{"i":19,"v":0,"c":0.253},{"i":19,"v":0.5,"c":0.265},{"i":19,"v":1,"c":0.275},{"i":19,"v":2,"c":0.286},{"i":19,"v":3,"c":0.291},{"i":19,"v":4,"c":0.293},{"i":19,"v":5,"c":0.293},
{"i":20,"v":-10,"c":0.998},{"i":20,"v":-7,"c":0.992},{"i":20,"v":-4.85,"c":0.975},{"i":20,"v":-4.05,"c":0.955},{"i":20,"v":-3.55,"c":0.925},{"i":20,"v":-3.2,"c":0.88},{"i":20,"v":-2.87,"c":0.8},{"i":20,"v":-2.65,"c":0.71},{"i":20,"v":-2.45,"c":0.6},{"i":20,"v":-2.25,"c":0.5},{"i":20,"v":-2.05,"c":0.415},{"i":20,"v":-1.85,"c":0.35},{"i":20,"v":-1.6,"c":0.3},{"i":20,"v":-1.3,"c":0.265},{"i":20,"v":-0.95,"c":0.245},{"i":20,"v":-0.5,"c":0.226},{"i":20,"v":0,"c":0.224},{"i":20,"v":0.5,"c":0.222},{"i":20,"v":1,"c":0.22},{"i":20,"v":2,"c":0.219},{"i":20,"v":3,"c":0.219},{"i":20,"v":4,"c":0.22},{"i":20,"v":5,"c":0.222},
{"i":21,"v":-10,"c":0.998},{"i":21,"v":-7,"c":0.992},{"i":21,"v":-4.8,"c":0.975},{"i":21,"v":-4.0,"c":0.955},{"i":21,"v":-3.5,"c":0.925},{"i":21,"v":-3.15,"c":0.88},{"i":21,"v":-2.82,"c":0.8},{"i":21,"v":-2.6,"c":0.71},{"i":21,"v":-2.4,"c":0.6},{"i":21,"v":-2.2,"c":0.5},{"i":21,"v":-2.0,"c":0.415},{"i":21,"v":-1.8,"c":0.35},{"i":21,"v":-1.55,"c":0.3},{"i":21,"v":-1.25,"c":0.265},{"i":21,"v":-0.9,"c":0.245},{"i":21,"v":-0.5,"c":0.261},{"i":21,"v":0,"c":0.286},{"i":21,"v":0.5,"c":0.296},{"i":21,"v":1,"c":0.301},{"i":21,"v":2,"c":0.306},{"i":21,"v":3,"c":0.311},{"i":21,"v":4,"c":0.318},{"i":21,"v":5,"c":0.324},
{"i":22,"v":-10,"c":0.998},{"i":22,"v":-7,"c":0.992},{"i":22,"v":-4.77,"c":0.975},{"i":22,"v":-3.97,"c":0.955},{"i":22,"v":-3.47,"c":0.925},{"i":22,"v":-3.12,"c":0.88},{"i":22,"v":-2.79,"c":0.8},{"i":22,"v":-2.57,"c":0.71},{"i":22,"v":-2.37,"c":0.6},{"i":22,"v":-2.17,"c":0.5},{"i":22,"v":-1.97,"c":0.415},{"i":22,"v":-1.77,"c":0.35},{"i":22,"v":-1.52,"c":0.3},{"i":22,"v":-1.22,"c":0.265},{"i":22,"v":-0.87,"c":0.245},{"i":22,"v":-0.5,"c":0.235},{"i":22,"v":0,"c":0.24},{"i":22,"v":0.5,"c":0.245},{"i":22,"v":1,"c":0.25},{"i":22,"v":2,"c":0.258},{"i":22,"v":3,"c":0.263},{"i":22,"v":4,"c":0.266},{"i":22,"v":5,"c":0.268},
{"i":23,"v":-10,"c":0.998},{"i":23,"v":-7,"c":0.992},{"i":23,"v":-4.74,"c":0.975},{"i":23,"v":-3.94,"c":0.955},{"i":23,"v":-3.44,"c":0.925},{"i":23,"v":-3.09,"c":0.88},{"i":23,"v":-2.76,"c":0.8},{"i":23,"v":-2.54,"c":0.71},{"i":23,"v":-2.34,"c":0.6},{"i":23,"v":-2.14,"c":0.5},{"i":23,"v":-1.94,"c":0.415},{"i":23,"v":-1.74,"c":0.35},{"i":23,"v":-1.49,"c":0.3},{"i":23,"v":-1.19,"c":0.265},{"i":23,"v":-0.84,"c":0.245},{"i":23,"v":-0.5,"c":0.223},{"i":23,"v":0,"c":0.221},{"i":23,"v":0.5,"c":0.219},{"i":23,"v":1,"c":0.218},{"i":23,"v":2,"c":0.217},{"i":23,"v":3,"c":0.216},{"i":23,"v":4,"c":0.217},{"i":23,"v":5,"c":0.219},
{"i":24,"v":-10,"c":0.998},{"i":24,"v":-7,"c":0.992},{"i":24,"v":-4.71,"c":0.975},{"i":24,"v":-3.91,"c":0.955},{"i":24,"v":-3.41,"c":0.925},{"i":24,"v":-3.06,"c":0.88},{"i":24,"v":-2.73,"c":0.8},{"i":24,"v":-2.51,"c":0.71},{"i":24,"v":-2.31,"c":0.6},{"i":24,"v":-2.11,"c":0.5},{"i":24,"v":-1.91,"c":0.415},{"i":24,"v":-1.71,"c":0.35},{"i":24,"v":-1.46,"c":0.3},{"i":24,"v":-1.16,"c":0.265},{"i":24,"v":-0.81,"c":0.245},{"i":24,"v":-0.5,"c":0.268},{"i":24,"v":0,"c":0.293},{"i":24,"v":0.5,"c":0.303},{"i":24,"v":1,"c":0.308},{"i":24,"v":2,"c":0.313},{"i":24,"v":3,"c":0.318},{"i":24,"v":4,"c":0.325},{"i":24,"v":5,"c":0.331},
{"i":25,"v":-10,"c":0.998},{"i":25,"v":-7,"c":0.992},{"i":25,"v":-4.67,"c":0.975},{"i":25,"v":-3.87,"c":0.955},{"i":25,"v":-3.37,"c":0.925},{"i":25,"v":-3.02,"c":0.88},{"i":25,"v":-2.69,"c":0.8},{"i":25,"v":-2.47,"c":0.71},{"i":25,"v":-2.27,"c":0.6},{"i":25,"v":-2.07,"c":0.5},{"i":25,"v":-1.87,"c":0.415},{"i":25,"v":-1.67,"c":0.35},{"i":25,"v":-1.42,"c":0.3},{"i":25,"v":-1.12,"c":0.265},{"i":25,"v":-0.77,"c":0.245},{"i":25,"v":-0.5,"c":0.228},{"i":25,"v":0,"c":0.219},{"i":25,"v":0.5,"c":0.215},{"i":25,"v":1,"c":0.213},{"i":25,"v":2,"c":0.212},{"i":25,"v":3,"c":0.212},{"i":25,"v":4,"c":0.213},{"i":25,"v":5,"c":0.215},
{"i":26,"v":-10,"c":0.998},{"i":26,"v":-7,"c":0.992},{"i":26,"v":-4.57,"c":0.975},{"i":26,"v":-3.77,"c":0.955},{"i":26,"v":-3.27,"c":0.925},{"i":26,"v":-2.92,"c":0.88},{"i":26,"v":-2.59,"c":0.8},{"i":26,"v":-2.37,"c":0.71},{"i":26,"v":-2.17,"c":0.6},{"i":26,"v":-1.97,"c":0.5},{"i":26,"v":-1.77,"c":0.415},{"i":26,"v":-1.57,"c":0.35},{"i":26,"v":-1.32,"c":0.3},{"i":26,"v":-1.02,"c":0.265},{"i":26,"v":-0.67,"c":0.245},{"i":26,"v":-0.3,"c":0.228},{"i":26,"v":0.1,"c":0.195},{"i":26,"v":0.4,"c":0.19},{"i":26,"v":0.8,"c":0.2},{"i":26,"v":1.3,"c":0.212},{"i":26,"v":2,"c":0.217},{"i":26,"v":3,"c":0.218},{"i":26,"v":4,"c":0.219},{"i":26,"v":5,"c":0.22},
{"i":27,"v":-10,"c":0.998},{"i":27,"v":-7,"c":0.992},{"i":27,"v":-4.53,"c":0.975},{"i":27,"v":-3.73,"c":0.955},{"i":27,"v":-3.23,"c":0.925},{"i":27,"v":-2.88,"c":0.88},{"i":27,"v":-2.55,"c":0.8},{"i":27,"v":-2.33,"c":0.71},{"i":27,"v":-2.13,"c":0.6},{"i":27,"v":-1.93,"c":0.5},{"i":27,"v":-1.73,"c":0.415},{"i":27,"v":-1.53,"c":0.35},{"i":27,"v":-1.28,"c":0.3},{"i":27,"v":-0.98,"c":0.265},{"i":27,"v":-0.63,"c":0.245},{"i":27,"v":-0.3,"c":0.258},{"i":27,"v":0,"c":0.289},{"i":27,"v":0.5,"c":0.299},{"i":27,"v":1,"c":0.304},{"i":27,"v":2,"c":0.309},{"i":27,"v":3,"c":0.314},{"i":27,"v":4,"c":0.321},{"i":27,"v":5,"c":0.327},
{"i":28,"v":-10,"c":0.998},{"i":28,"v":-7,"c":0.992},{"i":28,"v":-4.48,"c":0.975},{"i":28,"v":-3.68,"c":0.955},{"i":28,"v":-3.18,"c":0.925},{"i":28,"v":-2.83,"c":0.88},{"i":28,"v":-2.5,"c":0.8},{"i":28,"v":-2.28,"c":0.71},{"i":28,"v":-2.08,"c":0.6},{"i":28,"v":-1.88,"c":0.5},{"i":28,"v":-1.68,"c":0.415},{"i":28,"v":-1.48,"c":0.35},{"i":28,"v":-1.23,"c":0.3},{"i":28,"v":-0.93,"c":0.265},{"i":28,"v":-0.58,"c":0.245},{"i":28,"v":0,"c":0.226},{"i":28,"v":0.5,"c":0.224},{"i":28,"v":1,"c":0.222},{"i":28,"v":2,"c":0.221},{"i":28,"v":3,"c":0.221},{"i":28,"v":4,"c":0.222},{"i":28,"v":5,"c":0.224},
{"i":29,"v":-10,"c":0.998},{"i":29,"v":-7,"c":0.992},{"i":29,"v":-4.44,"c":0.975},{"i":29,"v":-3.64,"c":0.955},{"i":29,"v":-3.14,"c":0.925},{"i":29,"v":-2.79,"c":0.88},{"i":29,"v":-2.46,"c":0.8},{"i":29,"v":-2.24,"c":0.71},{"i":29,"v":-2.04,"c":0.6},{"i":29,"v":-1.84,"c":0.5},{"i":29,"v":-1.64,"c":0.415},{"i":29,"v":-1.44,"c":0.35},{"i":29,"v":-1.19,"c":0.3},{"i":29,"v":-0.89,"c":0.265},{"i":29,"v":-0.54,"c":0.245},{"i":29,"v":0,"c":0.222},{"i":29,"v":1,"c":0.223},{"i":29,"v":2,"c":0.226},{"i":29,"v":3,"c":0.231},{"i":29,"v":4,"c":0.236},{"i":29,"v":5,"c":0.24},
{"i":30,"v":-10,"c":0.998},{"i":30,"v":-7,"c":0.993},{"i":30,"v":-5.5,"c":0.985},{"i":30,"v":-3.9,"c":0.975},{"i":30,"v":-3.1,"c":0.955},{"i":30,"v":-2.6,"c":0.925},{"i":30,"v":-2.25,"c":0.88},{"i":30,"v":-1.92,"c":0.8},{"i":30,"v":-1.7,"c":0.71},{"i":30,"v":-1.5,"c":0.6},{"i":30,"v":-1.3,"c":0.5},{"i":30,"v":-1.1,"c":0.415},{"i":30,"v":-0.9,"c":0.35},{"i":30,"v":-0.65,"c":0.3},{"i":30,"v":-0.35,"c":0.262},{"i":30,"v":0,"c":0.228},{"i":30,"v":0.4,"c":0.2},{"i":30,"v":0.75,"c":0.186},{"i":30,"v":1.05,"c":0.19},{"i":30,"v":1.4,"c":0.205},{"i":30,"v":2,"c":0.213},{"i":30,"v":3,"c":0.215},{"i":30,"v":4,"c":0.216},{"i":30,"v":5,"c":0.217}
],
"ann": [
{"t":"カーボン注入あり","v":-1.408,"c":0.8395,"k":"r"},
{"t":"（面内44点測定）","v":-1.408,"c":0.7639,"k":"r"},
{"t":"カーボン注入なし","v":-8.747,"c":0.5353,"k":"b"},
{"t":"（面内42点測定）","v":-8.747,"c":0.4592,"k":"b"}
],
"ell": [
{"e":"r","v":-2.848,"c":0.8151},
{"e":"b","v":-3.369,"c":0.5172}
]
},
"layer": [
{
"data": {"name": "blue"},
"mark": {"type": "line", "color": "#0070C0", "strokeWidth": 2, "interpolate": "monotone"},
"encoding": {
"x": {"field": "v", "type": "quantitative", "scale": {"domain": [-10, 5], "nice": false, "zero": false},
"axis": {"orient": "bottom", "values": [-10,-9,-8,-7,-6,-5,-4,-3,-2,-1,0,1,2,3,4,5],
"labelExpr": "datum.value % 2 === 0 ? '' + datum.value : ''",
"labelFlush": false, "labelOverlap": false, "labelBound": false,
"labelFont": "Liberation Sans", "labelFontSize": 75, "labelColor": "black", "labelPadding": 54,
"tickSize": -29, "tickWidth": 3, "tickColor": "black", "domainColor": "black", "domainWidth": 3, "grid": false,
"title": "Voltage (V)", "titleFont": "Liberation Sans", "titleFontSize": 75, "titleFontWeight": "normal", "titleColor": "black",
"titleBaseline": "alphabetic", "titleX": 927, "titleY": 161}},
"y": {"field": "c", "type": "quantitative", "scale": {"domain": [0, 1], "nice": false, "zero": false},
"axis": {"orient": "left", "values": [0,0.1,0.2,0.3,0.4,0.5,0.6,0.7,0.8,0.9,1],
"labelExpr": "datum.value === 0 ? '0' : (round(datum.value * 10) % 2 === 0 ? format(datum.value, '.1f') : '')",
"labelFlush": false, "labelOverlap": false, "labelBound": false,
"labelFont": "Liberation Sans", "labelFontSize": 75, "labelColor": "black", "labelPadding": 50,
"tickSize": -29, "tickWidth": 3, "tickColor": "black", "domainColor": "black", "domainWidth": 3, "grid": false,
"title": "Normalized capacitance (C/Cₒₓ)", "titleFont": "Liberation Sans", "titleFontSize": 75, "titleFontWeight": "normal", "titleColor": "black",
"titleBaseline": "alphabetic", "titleAngle": 270, "titleX": -143, "titleY": 595}},
"detail": {"field": "i", "type": "nominal"}
}
},
{
"data": {"name": "red"},
"mark": {"type": "line", "color": "#FF0000", "strokeWidth": 2, "interpolate": "monotone"},
"encoding": {
"x": {"field": "v", "type": "quantitative", "axis": null},
"y": {"field": "c", "type": "quantitative", "axis": null},
"detail": {"field": "i", "type": "nominal"}
}
},
{
"data": {"name": "ell"},
"transform": [{"filter": "datum.e === 'r'"}],
"mark": {"type": "point", "shape": "M-1,0C-1,-0.1353,-0.5523,-0.245,0,-0.245C0.5523,-0.245,1,-0.1353,1,0C1,0.1353,0.5523,0.245,0,0.245C-0.5523,0.245,-1,0.1353,-1,0Z", "size": 72361, "filled": false, "color": "black", "strokeWidth": 4, "strokeDash": [16, 10], "opacity": 1},
"encoding": {
"x": {"field": "v", "type": "quantitative",
"axis": {"orient": "top", "values": [-10,-9,-8,-7,-6,-5,-4,-3,-2,-1,0,1,2,3,4,5], "labels": false, "title": null,
"tickSize": -29, "tickWidth": 3, "tickColor": "black", "domainColor": "black", "domainWidth": 3, "grid": false}},
"y": {"field": "c", "type": "quantitative",
"axis": {"orient": "right", "values": [0,0.1,0.2,0.3,0.4,0.5,0.6,0.7,0.8,0.9,1], "labels": false, "title": null,
"tickSize": -29, "tickWidth": 3, "tickColor": "black", "domainColor": "black", "domainWidth": 3, "grid": false}}
}
},
{
"data": {"name": "ell"},
"transform": [{"filter": "datum.e === 'b'"}],
"mark": {"type": "point", "shape": "M-1,0C-1,-0.1464,-0.5523,-0.265,0,-0.265C0.5523,-0.265,1,-0.1464,1,0C1,0.1464,0.5523,0.265,0,0.265C-0.5523,0.265,-1,0.1464,-1,0Z", "size": 28900, "filled": false, "color": "black", "strokeWidth": 4, "strokeDash": [16, 10], "opacity": 1},
"encoding": {
"x": {"field": "v", "type": "quantitative", "axis": null},
"y": {"field": "c", "type": "quantitative", "axis": null}
}
},
{
"data": {"name": "ann"},
"mark": {"type": "text", "font": "Noto Sans CJK JP", "fontSize": 69, "align": "left", "baseline": "middle"},
"encoding": {
"x": {"field": "v", "type": "quantitative", "axis": null},
"y": {"field": "c", "type": "quantitative", "axis": null},
"text": {"field": "t"},
"color": {"field": "k", "type": "nominal", "scale": {"domain": ["r", "b"], "range": ["#FF0000", "#4636CF"]}, "legend": null}
}
}
],
"resolve": {"axis": {"x": "independent", "y": "independent"}}
}
